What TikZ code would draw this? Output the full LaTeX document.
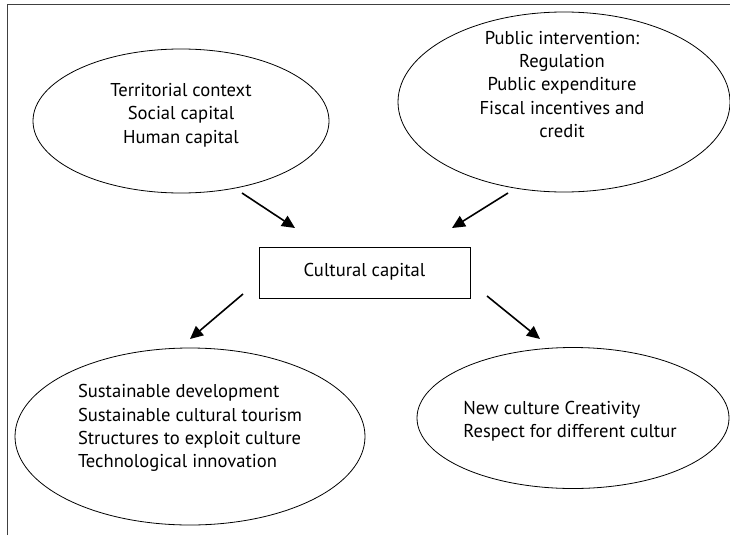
\documentclass[tikz,border=0pt]{standalone}
\usepackage{fontspec}
\setmainfont{PT Sans}
\usetikzlibrary{shapes.geometric,arrows.meta}

\tikzset{
  blob/.style={draw,ellipse,line width=0.8pt,inner sep=0pt},
  capbox/.style={draw,rectangle,line width=0.9pt,minimum width=211pt,minimum height=51pt,inner sep=0pt},
  txt/.style={font=\fontsize{18.6}{23.3}\selectfont,inner sep=0pt},
  flow/.style={line width=1.6pt,-{Triangle[length=13pt,width=12pt]}}
}

\begin{document}
\begin{tikzpicture}[x=1pt,y=-1pt]
\useasboundingbox (0,0) rectangle (730,535);
% frame
\draw[line width=1.2pt,black!75] (7.5,535) -- (7.5,4.5) -- (730,4.5);

% ellipses
\node[blob,minimum width=296pt,minimum height=144pt] (terr) at (181,121) {};
\node[blob,minimum width=332pt,minimum height=180pt] (pub) at (564,102) {};
\node[blob,minimum width=350pt,minimum height=177pt] (sust) at (190,436.5) {};
\node[blob,minimum width=312pt,minimum height=141pt] (newc) at (573,418) {};
\node[capbox] (cc) at (364.5,272.5) {};

% texts
\node[txt,align=center] (terr-t) at (181,115) {Territorial context\\Social capital\\Human capital};
\node[txt,align=center] (pub-t) at (562,84.5) {Public intervention:\\Regulation\\Public expenditure\\Fiscal incentives and\\credit};
\node[txt,align=left] (sust-t) at (190,428) {Sustainable development\\Sustainable cultural tourism\\Structures to exploit culture\\Technological innovation};
\node[txt,align=left] (newc-t) at (570,421) {New culture Creativity\\Respect for different cultur};
\node[txt] (cc-t) at (364.5,272) {Cultural capital};

% arrow ends
\coordinate (a1) at (242,193);
\coordinate (b1) at (295,228);
\coordinate (a2) at (508,193);
\coordinate (b2) at (452,228);
\coordinate (a3) at (243,294);
\coordinate (b3) at (190,339);
\coordinate (a4) at (487,296);
\coordinate (b4) at (540,339);

\draw[flow] (a1) -- (b1);
\draw[flow] (a2) -- (b2);
\draw[flow] (a3) -- (b3);
\draw[flow] (a4) -- (b4);
\end{tikzpicture}
\end{document}
